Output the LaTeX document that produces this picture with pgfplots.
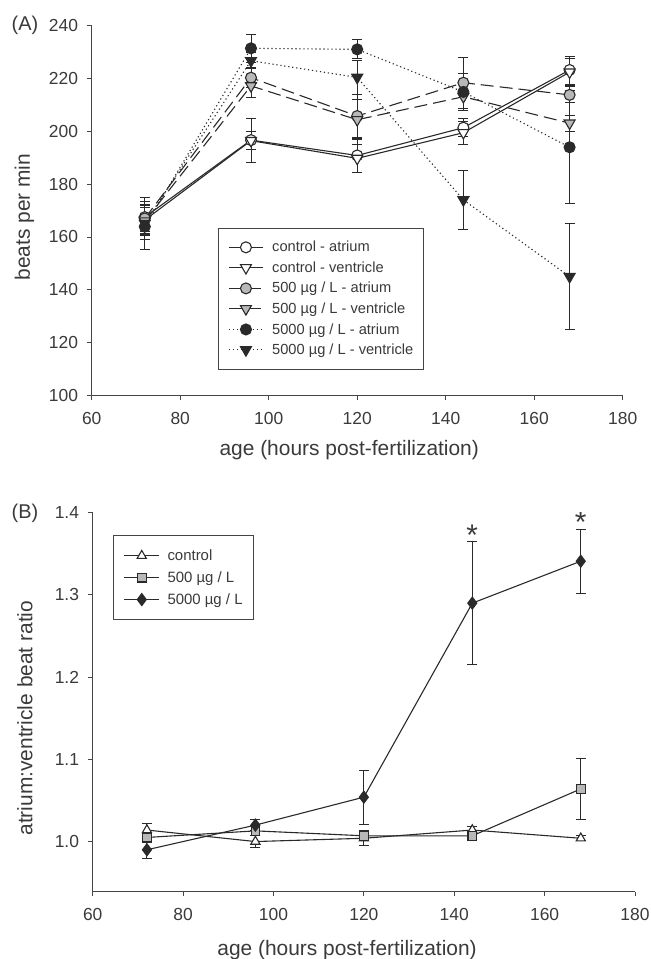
\documentclass[border=0pt]{standalone}
\usepackage{pgfplots}
\pgfplotsset{compat=1.18}
\usepackage{fontspec}
\setmainfont{Liberation Sans}
\definecolor{ln}{HTML}{2A2A2A}
\definecolor{gfill}{HTML}{B8B8B8}
\definecolor{txt}{HTML}{3A3A3A}
\definecolor{ax}{HTML}{454545}

\pgfplotsset{
 common/.style={
  scale only axis,
  axis x line*=bottom, axis y line*=left,
  axis line style={ax, line width=0.9bp},
  tick style={ax, line width=0.9bp},
  tick align=outside, major tick length=4.5bp,
  xmin=60, xmax=180, xtick={60,80,...,180},
  ticklabel style={font=\fontsize{17.5}{20}\selectfont, text=txt, inner sep=0pt},
  xticklabel shift=11.5bp, yticklabel shift=9bp,
  label style={font=\fontsize{21}{24}\selectfont, text=txt},
  legend cell align=left,
  /pgf/number format/assume math mode=true,
 },
 ser/.style={color=ln, line width=1.1bp},
 eb/.style={error bars/.cd, y dir=both, y explicit,
   error bar style={solid, line width=0.9bp, color=ln},
   error mark options={rotate=90, mark size=5bp, solid, line width=0.9bp, color=ln}},
 dsh/.style={dash pattern=on 13bp off 6bp},
 dtt/.style={dash pattern=on 1.2bp off 2.8bp},
}

\begin{document}
\begin{tikzpicture}
\useasboundingbox (-91.7bp,395.7bp) rectangle (559.3bp,-563.3bp);

\begin{axis}[common,
  at={(0bp,0bp)}, anchor=south west,
  width=531bp, height=370.4bp,
  ymin=100, ymax=240, ytick={100,120,...,240},
  xlabel={age (hours post-fertilization)},
  ylabel={beats per min},
  xlabel style={at={(axis description cs:0.485,-0.1466)}, anchor=center},
  ylabel style={at={(axis description cs:-0.1266,0.482)}, anchor=center},
  legend style={at={(0.2384,0.4536)}, anchor=north west,
    draw=ax, line width=0.8bp,
    font=\fontsize{14.7}{17}\selectfont, text=txt,
    inner xsep=9.7bp, inner ysep=13.2bp,
    nodes={inner sep=0pt},
    row sep=8.3bp,
    /tikz/every odd column/.append style={column sep=8.7bp}},
  legend image code/.code={\draw[mark repeat=2,mark phase=2] plot coordinates {(0bp,0bp) (17bp,0bp) (34bp,0bp)};},
]
\addplot[ser, solid, mark=*, mark size=5.5bp, mark options={solid, fill=white, draw=ln}, eb] table[x=x,y=y,y error=e] {
x y e
72 167.5 6
96 196.6 8.3
120 190.8 6.3
144 201.3 3.5
168 223.1 5.3
};
\addlegendentry{control - atrium}
\addplot[ser, solid, mark=triangle*, mark size=6.3bp, mark options={solid, fill=white, draw=ln, rotate=180}, eb] table[x=x,y=y,y error=e] {
x y e
72 166.4 6
96 196.4 3.5
120 189.7 5.4
144 199.4 4.3
168 222.3 5
};
\addlegendentry{control - ventricle}
\addplot[ser, dsh, mark=*, mark size=5.5bp, mark options={solid, fill=gfill, draw=ln}, eb] table[x=x,y=y,y error=e] {
x y e
72 167 5
96 220.2 3.8
120 205.7 8
144 218.3 9.7
168 213.7 3
};
\addlegendentry{500 µg / L - atrium}
\addplot[ser, dsh, mark=triangle*, mark size=6.3bp, mark options={solid, fill=gfill, draw=ln, rotate=180}, eb] table[x=x,y=y,y error=e] {
x y e
72 166 5
96 217.1 4.5
120 204.3 7.5
144 213 5
168 203 3
};
\addlegendentry{500 µg / L - ventricle}
\addplot[ser, dtt, mark=*, mark size=5.5bp, mark options={solid, fill=ln, draw=ln}, eb] table[x=x,y=y,y error=e] {
x y e
72 163.9 5
96 231.3 5.3
120 230.9 3.6
144 214.8 7
168 193.9 21.4
};
\addlegendentry{5000 µg / L - atrium}
\addplot[ser, dtt, mark=triangle*, mark size=6.3bp, mark options={solid, fill=ln, draw=ln, rotate=180}, eb] table[x=x,y=y,y error=e] {
x y e
72 165.1 10
96 226.6 3
120 220.3 6.5
144 174 11
168 145 20
};
\addlegendentry{5000 µg / L - ventricle}
\end{axis}

\begin{axis}[common,
  at={(1bp,-496bp)}, anchor=south west,
  width=542.3bp, height=379bp,
  ymin=0.939, ymax=1.4, ytick={1.0,1.1,1.2,1.3,1.4},
  yticklabel style={/pgf/number format/.cd, fixed, fixed zerofill, precision=1},
  xlabel={age (hours post-fertilization)},
  ylabel={atrium:ventricle beat ratio},
  xlabel style={at={(axis description cs:0.469,-0.154)}, anchor=center},
  ylabel style={at={(axis description cs:-0.1248,0.458)}, anchor=center},
  legend style={at={(0.0369,0.941)}, anchor=north west,
    draw=ax, line width=0.8bp,
    font=\fontsize{15}{17}\selectfont, text=txt,
    inner xsep=10.6bp, inner ysep=14.1bp,
    nodes={inner sep=0pt},
    row sep=9.6bp,
    /tikz/every odd column/.append style={column sep=7.7bp}},
  legend image code/.code={\draw[mark repeat=2,mark phase=2] plot coordinates {(0bp,0bp) (17.5bp,0bp) (35bp,0bp)};},
]
\addplot[ser, solid, mark=triangle*, mark size=5.3bp, mark options={solid, fill=white, draw=ln}, eb] table[x=x,y=y,y error=e] {
x y e
72 1.014 0.008
96 1.000 0.007
120 1.004 0.009
144 1.014 0.004
168 1.004 0.003
};
\addlegendentry{control}
\addplot[ser, solid, mark=square*, mark size=4.3bp, mark options={solid, fill=gfill, draw=ln}, eb] table[x=x,y=y,y error=e] {
x y e
72 1.005 0.006
96 1.013 0.006
120 1.007 0.006
144 1.007 0.005
168 1.064 0.037
};
\addlegendentry{500 µg / L}
\addplot[ser, solid, mark=diamond*, mark size=6bp, mark options={solid, fill=ln, draw=ln}, eb] table[x=x,y=y,y error=e] {
x y e
72 0.990 0.011
96 1.020 0.007
120 1.054 0.033
144 1.290 0.075
168 1.341 0.039
};
\addlegendentry{5000 µg / L}
\node[anchor=base, font=\fontsize{30}{32}\selectfont, text=txt, inner sep=0pt] at (axis cs:144,1.3597) {*};
\node[anchor=base, font=\fontsize{30}{32}\selectfont, text=txt, inner sep=0pt] at (axis cs:168,1.3758) {*};
\end{axis}

\node[font=\fontsize{20}{22}\selectfont, text=txt, inner sep=0pt] at (-66.7bp,370.2bp) {(A)};
\node[font=\fontsize{20}{22}\selectfont, text=txt, inner sep=0pt] at (-66.7bp,-117.3bp) {(B)};
\end{tikzpicture}
\end{document}
